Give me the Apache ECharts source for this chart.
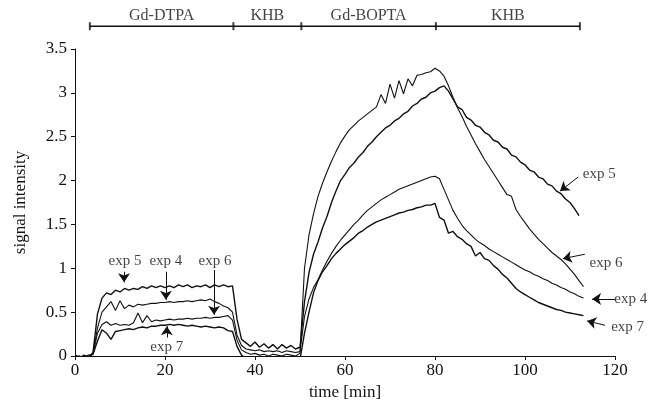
<!DOCTYPE html>
<html>
<head>
  <meta charset="utf-8">
  <title>signal intensity</title>
  <script src="https://cdn.jsdelivr.net/npm/echarts@6/dist/echarts.min.js"></script>
</head>
<body style="margin:0">
  <div id="main" style="width:655px;height:410px;"></div>
  <script type="text/javascript">
    // time [min], one sample per minute
    var time = [0,1,2,3,4,5,6,7,8,9,10,11,12,13,14,15,16,17,18,19,20,21,22,23,24,25,26,27,28,29,
      30,31,32,33,34,35,36,37,38,39,40,41,42,43,44,45,46,47,48,49,50,51,52,53,54,55,56,57,58,59,
      60,61,62,63,64,65,66,67,68,69,70,71,72,73,74,75,76,77,78,79,80,81,82,83,84,85,86,87,88,89,
      90,91,92,93,94,95,96,97,98,99,100,101,102,103,104,105,106,107,108,109,110,111,112,113];

    var exp5 = [-0.01,-0.03,0.01,-0.02,0.04,0.48,0.66,0.72,0.70,0.75,
      0.73,0.77,0.75,0.77,0.76,0.79,0.77,0.80,0.78,0.80,
      0.78,0.80,0.78,0.81,0.79,0.81,0.78,0.80,0.79,0.81,
      0.78,0.81,0.79,0.81,0.79,0.80,0.42,0.19,0.15,0.11,
      0.16,0.10,0.14,0.09,0.13,0.08,0.13,0.09,0.12,0.08,
      0.10,0.62,0.95,1.16,1.30,1.46,1.59,1.75,1.88,2.00,
      2.07,2.15,2.20,2.27,2.32,2.39,2.44,2.50,2.55,2.60,
      2.63,2.68,2.71,2.76,2.79,2.85,2.88,2.93,2.95,3.00,
      3.02,3.06,3.08,3.02,2.93,2.84,2.81,2.72,2.69,2.63,
      2.61,2.55,2.52,2.46,2.44,2.38,2.36,2.29,2.27,2.21,
      2.18,2.12,2.10,2.04,2.02,1.96,1.94,1.88,1.85,1.79,
      1.75,1.68,1.60];

    var exp6 = [0.00,-0.02,-0.01,0.01,0.02,0.26,0.36,0.39,0.35,0.37,
      0.35,0.36,0.35,0.38,0.49,0.38,0.46,0.39,0.41,0.40,
      0.41,0.42,0.41,0.42,0.42,0.43,0.42,0.43,0.43,0.44,
      0.43,0.44,0.44,0.45,0.46,0.41,0.18,0.07,0.04,0.02,
      0.03,0.01,0.02,0.00,0.02,0.01,0.00,0.02,0.01,0.00,
      0.03,1.00,1.38,1.62,1.82,1.97,2.10,2.22,2.33,2.43,
      2.51,2.58,2.63,2.68,2.72,2.76,2.80,2.84,2.98,2.88,
      3.10,2.94,3.14,2.99,3.16,3.08,3.20,3.21,3.23,3.24,
      3.28,3.25,3.19,3.08,2.95,2.83,2.73,2.62,2.52,2.42,
      2.33,2.24,2.16,2.08,2.00,1.92,1.84,1.82,1.67,1.59,
      1.52,1.45,1.39,1.33,1.28,1.23,1.18,1.14,1.10,1.05,
      0.99,0.93,0.86,0.79];

    var exp4 = [0.01,-0.01,0.00,-0.02,0.03,0.32,0.50,0.56,0.62,0.52,
      0.63,0.54,0.58,0.56,0.59,0.58,0.59,0.60,0.60,0.61,
      0.61,0.62,0.61,0.62,0.62,0.63,0.62,0.63,0.64,0.63,
      0.65,0.62,0.60,0.57,0.55,0.50,0.24,0.12,0.08,0.07,
      0.06,0.07,0.05,0.06,0.05,0.06,0.04,0.06,0.05,0.04,
      0.05,0.45,0.65,0.78,0.87,0.98,1.08,1.17,1.25,1.32,
      1.38,1.44,1.50,1.55,1.61,1.66,1.70,1.74,1.78,1.81,
      1.84,1.87,1.90,1.92,1.94,1.96,1.98,2.00,2.02,2.04,
      2.05,2.02,1.90,1.78,1.66,1.57,1.49,1.43,1.38,1.33,
      1.29,1.26,1.22,1.19,1.16,1.13,1.10,1.07,1.04,1.01,
      0.98,0.96,0.93,0.91,0.88,0.86,0.83,0.81,0.78,0.76,
      0.73,0.71,0.68,0.66];

    var exp7 = [-0.02,0.00,-0.03,-0.01,0.02,0.17,0.30,0.26,0.19,0.28,
      0.29,0.30,0.31,0.30,0.32,0.33,0.32,0.34,0.34,0.35,
      0.35,0.36,0.35,0.36,0.35,0.34,0.35,0.34,0.33,0.34,
      0.33,0.32,0.33,0.32,0.29,0.28,0.11,0.01,-0.03,-0.05,
      -0.04,-0.06,-0.05,-0.07,-0.05,-0.06,-0.08,-0.05,-0.07,-0.06,
      -0.04,0.26,0.50,0.72,0.86,0.96,1.03,1.11,1.17,1.22,
      1.27,1.31,1.35,1.40,1.43,1.47,1.50,1.53,1.55,1.57,
      1.59,1.61,1.63,1.64,1.66,1.67,1.69,1.70,1.72,1.72,
      1.74,1.58,1.55,1.40,1.42,1.36,1.33,1.28,1.25,1.14,
      1.18,1.11,1.09,1.03,0.99,0.93,0.89,0.83,0.77,0.73,
      0.70,0.67,0.64,0.61,0.59,0.57,0.55,0.53,0.52,0.50,
      0.49,0.48,0.47,0.46];

    // protocol phases drawn as a bracket above the plot
    var phaseEdges = [3.3, 35.2, 50.3, 80.2, 112.2];
    var phaseNames = ['Gd-DTPA', 'KHB', 'Gd-BOPTA', 'KHB'];
    var bracketLevel = 3.76;

    // curve labels: text position, arrow start, arrow end (data units)
    var annoText = ['exp 5', 'exp 4', 'exp 6', 'exp 7', 'exp 5', 'exp 6', 'exp 4', 'exp 7'];
    var annoAt = [[11.1, 1.08], [20.2, 1.08], [31.1, 1.08], [20.4, 0.10],
                  [116.5, 2.07], [118.0, 1.06], [123.5, 0.65], [122.8, 0.33]];
    var arrowFrom = [[10.9, 0.96], [20.2, 0.96], [30.9, 0.98], [20.4, 0.21],
                     [111.8, 2.04], [113.3, 1.16], [120.0, 0.65], [117.8, 0.35]];
    var arrowTo = [[10.9, 0.84], [20.2, 0.64], [30.9, 0.47], [20.4, 0.34],
                   [107.8, 1.88], [108.4, 1.11], [114.9, 0.65], [113.8, 0.40]];

    var serif = '"Liberation Serif", "DejaVu Serif", serif';
    var ink = '#111';

    function pairs(vals) {
      return vals.map(function (v, i) { return [time[i], v]; });
    }
    function curve(name, vals, w) {
      return {
        name: name, type: 'line', data: pairs(vals), showSymbol: false,
        lineStyle: { color: ink, width: w }, silent: true
      };
    }

    var bracketTicks = phaseEdges.map(function (t) { return [t, bracketLevel]; });
    var bracketLabels = phaseNames.map(function (n, i) {
      return { name: n, value: [(phaseEdges[i] + phaseEdges[i + 1]) / 2, bracketLevel] };
    });

    var myChart = echarts.init(document.getElementById('main'));
    var option = {
      animation: false,
      grid: { left: 75, right: 40, top: 49, bottom: 54 },
      xAxis: {
        type: 'value', min: 0, max: 120, interval: 20,
        name: 'time [min]', nameLocation: 'middle', nameGap: 24,
        nameTextStyle: { fontFamily: serif, fontSize: 17, color: ink },
        axisLine: { lineStyle: { color: ink, width: 1 } },
        axisTick: { inside: false, length: 4, lineStyle: { color: ink } },
        axisLabel: { fontFamily: serif, fontSize: 17, color: ink, margin: 6 },
        splitLine: { show: false }
      },
      yAxis: {
        type: 'value', min: 0, max: 3.5, interval: 0.5,
        name: 'signal intensity', nameLocation: 'middle', nameGap: 46,
        nameTextStyle: { fontFamily: serif, fontSize: 17, color: ink },
        axisLine: { show: true, lineStyle: { color: ink, width: 1 } },
        axisTick: { show: true, inside: false, length: 4, lineStyle: { color: ink } },
        axisLabel: { fontFamily: serif, fontSize: 17, color: ink, margin: 8 },
        splitLine: { show: false }
      },
      series: [
        curve('exp 5', exp5, 1.4),
        curve('exp 6', exp6, 1.1),
        curve('exp 4', exp4, 1.1),
        curve('exp 7', exp7, 1.4),
        {
          // bracket line
          type: 'line', data: [[phaseEdges[0], bracketLevel], [phaseEdges[4], bracketLevel]],
          showSymbol: false, clip: false, silent: true,
          lineStyle: { color: ink, width: 1.5 }
        },
        {
          // bracket ticks
          type: 'scatter', data: bracketTicks, clip: false, silent: true,
          symbol: 'rect', symbolSize: [2, 8], itemStyle: { color: ink }
        },
        {
          // phase names
          type: 'scatter', data: bracketLabels, clip: false, silent: true,
          symbolSize: 0,
          label: {
            show: true, position: 'top', distance: 2, formatter: '{b}',
            fontFamily: serif, fontSize: 16, color: ink
          }
        },
        {
          // curve labels with arrows
          type: 'scatter', clip: false, silent: true, symbolSize: 0,
          data: annoText.map(function (s, i) { return { name: s, value: annoAt[i] }; }),
          label: {
            show: true, position: 'inside', formatter: '{b}',
            fontFamily: serif, fontSize: 15, color: ink
          },
          markLine: {
            silent: true, animation: false,
            symbol: ['none', 'arrow'], symbolSize: 9,
            label: { show: false },
            lineStyle: { color: ink, width: 1, type: 'solid' },
            itemStyle: { color: ink },
            data: arrowFrom.map(function (p, i) {
              return [{ coord: p }, { coord: arrowTo[i] }];
            })
          }
        }
      ]
    };
    myChart.setOption(option);
  </script>
</body>
</html>
